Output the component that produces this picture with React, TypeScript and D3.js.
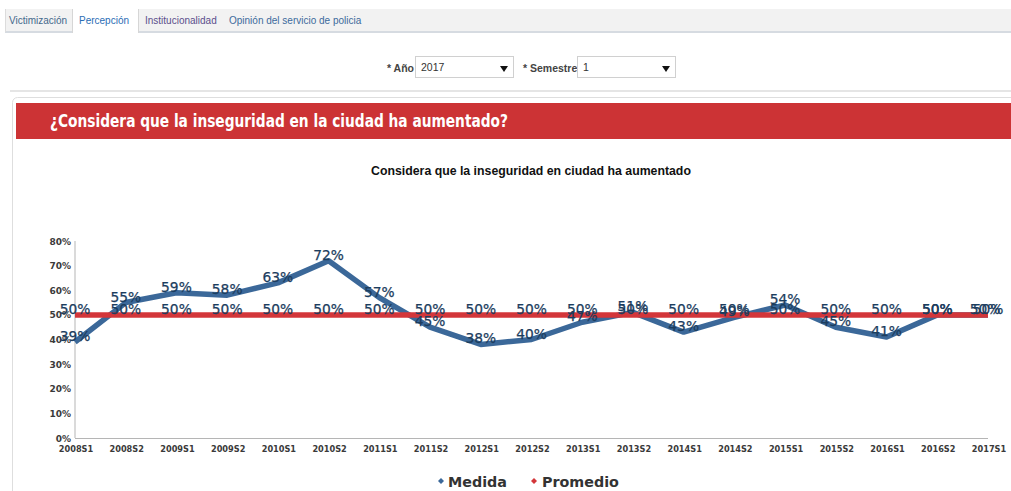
import { useMemo } from "react";
import * as d3 from "d3";

const periods = [
  "2008S1", "2008S2", "2009S1", "2009S2", "2010S1", "2010S2", "2011S1",
  "2011S2", "2012S1", "2012S2", "2013S1", "2013S2", "2014S1", "2014S2",
  "2015S1", "2015S2", "2016S1", "2016S2", "2017S1"
];
const medida = [39, 55, 59, 58, 63, 72, 57, 45, 38, 40, 47, 51, 43, 49, 54, 45, 41, 50, 50];
const promedio = [50, 50, 50, 50, 50, 50, 50, 50, 50, 50, 50, 50, 50, 50, 50, 50, 50, 50, 50];
const yTicks = [0, 10, 20, 30, 40, 50, 60, 70, 80];
const tabs = ["Victimización", "Percepción", "Institucionalidad", "Opinión del servicio de policia"];
const tabColors = ["#44698c", "#2a6db5", "#5b4f8c", "#3c6a9c"];
const tabX = [9, 79, 145, 229];

const BLUE = "#3b6899";
const RED = "#d3363a";
const LABEL = "#1c3d5e";
const FONT = "'DejaVu Sans', Verdana, sans-serif";
const ARIAL = "'Liberation Sans', Arial, sans-serif";

export default function App(): JSX.Element {
  const width = 1011;
  const height = 491;

  const x = useMemo(() => d3.scalePoint<string>().domain(periods).range([75, 988]), []);
  const y = useMemo(() => d3.scaleLinear().domain([0, 80]).range([438, 241]), []);

  const line = d3
    .line<number>()
    .x((_, index) => x(periods[index]) ?? 0)
    .y((value) => y(value));

  return (
    <svg
      width={width}
      height={height}
      style={{ position: "absolute", left: 0, top: 0, background: "#fff" }}
    >
      {/* tab strip */}
      <rect x={5} y={9} width={1006} height={23} fill="#f2f2f2" />
      <line x1={5} x2={1011} y1={32} y2={32} stroke="#d6dbe1" strokeWidth={2} />
      <line x1={5.5} x2={5.5} y1={9} y2={32} stroke="#dcdcdc" />
      <rect x={72} y={9} width={66} height={25} fill="#fff" />
      <line x1={72.5} x2={72.5} y1={9} y2={33} stroke="#d6d6d6" />
      <line x1={138.5} x2={138.5} y1={9} y2={33} stroke="#d6d6d6" />
      {tabs.map((label, index) => (
        <text
          key={label}
          x={tabX[index]}
          y={24}
          fontFamily={ARIAL}
          fontSize={10}
          fill={tabColors[index]}
        >
          {label}
        </text>
      ))}

      {/* filters */}
      <text x={387} y={72} fontFamily={ARIAL} fontSize={10.5} fontWeight="bold" fill="#444">
        * Año
      </text>
      <rect x={415.5} y={56.5} width={98} height={21} fill="#fff" stroke="#d0d0d0" />
      <text x={421} y={71} fontFamily={ARIAL} fontSize={10.5} fill="#333">2017</text>
      <path d="M500,66 L508,66 L504,72 Z" fill="#111" />
      <text x={523} y={72} fontFamily={ARIAL} fontSize={10.5} fontWeight="bold" fill="#444">
        * Semestre
      </text>
      <rect x={577.5} y={56.5} width={98} height={21} fill="#fff" stroke="#d0d0d0" />
      <text x={583} y={71} fontFamily={ARIAL} fontSize={10.5} fill="#333">1</text>
      <path d="M662,66 L670,66 L666,72 Z" fill="#111" />

      {/* panel */}
      <line x1={10} x2={1011} y1={91} y2={91} stroke="#dcdcdc" strokeWidth={1.5} />
      <rect x={12.5} y={97.5} width={1010} height={420} rx={5} fill="#fff" stroke="#dedede" />
      <rect x={16} y={103} width={995} height={36} fill="#cc3335" />
      <text
        x={50}
        y={127}
        fontFamily="'Liberation Sans Narrow', 'Arial Narrow', 'DejaVu Sans Condensed', Arial, sans-serif"
        fontSize={18}
        fontWeight="bold"
        fill="#fff"
        textLength={458}
        lengthAdjust="spacingAndGlyphs"
      >
        ¿Considera que la inseguridad en la ciudad ha aumentado?
      </text>

      {/* chart title */}
      <text x={531} y={175} textAnchor="middle" fontFamily={ARIAL} fontSize={12.3} fontWeight="bold" fill="#111">
        Considera que la inseguridad en ciudad ha aumentado
      </text>

      {/* axes */}
      <line x1={75} x2={75} y1={y(80)} y2={y(0)} stroke="#b5b5b5" />
      <line x1={75} x2={988} y1={y(0) + 0.5} y2={y(0) + 0.5} stroke="#b5b5b5" />
      {yTicks.map((tick) => (
        <text
          key={tick}
          x={71}
          y={y(tick) + 3.5}
          textAnchor="end"
          fontFamily={FONT}
          fontSize={9}
          fontWeight="bold"
          fill="#3a3a3a"
        >
          {`${tick}%`}
        </text>
      ))}
      {periods.map((period) => (
        <text
          key={period}
          x={(x(period) ?? 0) + 1}
          y={452}
          textAnchor="middle"
          fontFamily={FONT}
          fontSize={8.2}
          fontWeight="bold"
          fill="#3a3a3a"
        >
          {period}
        </text>
      ))}

      {/* series */}
      <path d={line(medida) ?? ""} fill="none" stroke={BLUE} strokeWidth={5.5} strokeLinejoin="round" />
      <path d={line(promedio) ?? ""} fill="none" stroke={RED} strokeWidth={5.5} />

      {/* data labels */}
      {promedio.map((value, index) => (
        <text
          key={`p${index}`}
          x={x(periods[index]) ?? 0}
          y={y(value) - 1}
          textAnchor="middle"
          fontFamily={FONT}
          fontSize={13.8}
          fill={LABEL}
          stroke={LABEL}
          strokeWidth={0.25}
        >
          {`${value}%`}
        </text>
      ))}
      {medida.map((value, index) => (
        <text
          key={`m${index}`}
          x={(x(periods[index]) ?? 0) + (index === medida.length - 1 ? -3 : 0)}
          y={y(value) - 1}
          textAnchor="middle"
          fontFamily={FONT}
          fontSize={13.8}
          fill={LABEL}
          stroke={LABEL}
          strokeWidth={0.25}
        >
          {`${value}%`}
        </text>
      ))}

      {/* legend */}
      <path d="M438,481 L441,478 L444,481 L441,484 Z" fill={BLUE} />
      <text x={448} y={487} fontFamily={FONT} fontSize={14.3} fontWeight="bold" fill="#333">
        Medida
      </text>
      <path d="M531,481 L534,478 L537,481 L534,484 Z" fill={RED} />
      <text x={542} y={487} fontFamily={FONT} fontSize={14.3} fontWeight="bold" fill="#333">
        Promedio
      </text>
    </svg>
  );
}
